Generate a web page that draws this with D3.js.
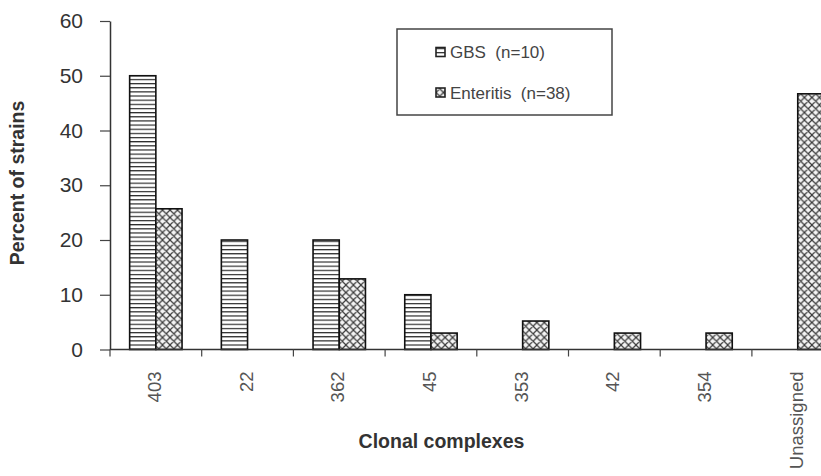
<!DOCTYPE html>
<html>
<head>
<meta charset="utf-8">
<script src="https://cdn.jsdelivr.net/npm/d3@7"></script>
<style>
  html, body { margin: 0; padding: 0; background: #fff; }
  svg { display: block; font-family: "Liberation Sans", Arial, sans-serif; }
</style>
</head>
<body>
<svg id="chart" width="821" height="476"></svg>
<script>
// Clonal complexes and the share of strains in each, per patient group
const categories = ["403", "22", "362", "45", "353", "42", "354", "Unassigned"];
const seriesNames = ["GBS (n=10)", "Enteritis (n=38)"];
const gbsValues = [50, 20, 20, 10, 0, 0, 0, 0];
const enteritisValues = [25.7, 0, 12.9, 3, 5.2, 3, 3, 46.7];
const yTicks = [0, 10, 20, 30, 40, 50, 60];

const svg = d3.select("#chart");
const W = 821, H = 476;

const plotLeft = 110, plotTop = 21, plotBottom = 349.5;
const step = 91.7;

const x = d3.scaleBand()
  .domain(categories)
  .range([plotLeft, plotLeft + step * categories.length])
  .paddingInner(0).paddingOuter(0);

const x1 = d3.scaleBand()
  .domain(seriesNames)
  .range([0, x.bandwidth()])
  .paddingInner(0).paddingOuter(0.75);

const y = d3.scaleLinear().domain([0, 60]).range([plotBottom, plotTop]);

// Fill patterns: horizontal stripes and diagonal cross-hatch
const defs = svg.append("defs");
const stripes = defs.append("pattern")
  .attr("id", "stripes").attr("patternUnits", "userSpaceOnUse")
  .attr("width", 8).attr("height", 4.15);
stripes.append("rect").attr("width", 8).attr("height", 4.15).attr("fill", "#fff");
stripes.append("line").attr("x1", 0).attr("x2", 8).attr("y1", 0.6).attr("y2", 0.6)
  .attr("stroke", "#2a2a2a").attr("stroke-width", 1.2);

const hatch = defs.append("pattern")
  .attr("id", "hatch").attr("patternUnits", "userSpaceOnUse")
  .attr("width", 7.5).attr("height", 7.5);
hatch.append("rect").attr("width", 7.5).attr("height", 7.5).attr("fill", "#f4f4f4");
hatch.append("path")
  .attr("d", "M0,0L7.5,7.5M0,7.5L7.5,0M-1,1L1,-1M6.5,8.5L8.5,6.5M-1,6.5L1,8.5M6.5,-1L8.5,1")
  .attr("stroke", "#3a3a3a").attr("stroke-width", 1.2).attr("fill", "none");

const fills = { "GBS (n=10)": "url(#stripes)", "Enteritis (n=38)": "url(#hatch)" };
const valuesBySeries = { "GBS (n=10)": gbsValues, "Enteritis (n=38)": enteritisValues };

// Bars
const groups = svg.append("g").selectAll("g")
  .data(categories).join("g")
  .attr("transform", d => `translate(${x(d)},0)`);

groups.selectAll("rect")
  .data((c, i) => seriesNames.map(s => ({ s, v: valuesBySeries[s][i] })).filter(d => d.v > 0))
  .join("rect")
  .attr("x", d => x1(d.s))
  .attr("width", x1.bandwidth())
  .attr("y", d => y(d.v))
  .attr("height", d => y(0) - y(d.v))
  .attr("fill", d => fills[d.s])
  .attr("stroke", "#111")
  .attr("stroke-width", 1.6);

// Y axis
const yAxis = svg.append("g")
  .attr("transform", `translate(${plotLeft},0)`)
  .call(d3.axisLeft(y).tickValues(yTicks).tickSize(10).tickPadding(17).tickSizeOuter(0));
yAxis.select(".domain").attr("stroke", "#333").attr("stroke-width", 1.5);
yAxis.selectAll(".tick line").attr("stroke", "#444").attr("stroke-width", 1.2);
yAxis.selectAll(".tick text")
  .attr("font-size", 21).attr("fill", "#333")
  .attr("font-family", "Liberation Sans, Arial, sans-serif");

// X axis: ticks sit on the category boundaries
const xAxisG = svg.append("g").attr("transform", `translate(0,${plotBottom})`);
xAxisG.append("line")
  .attr("x1", plotLeft).attr("x2", W)
  .attr("stroke", "#333").attr("stroke-width", 1.5);
const boundaries = categories.map(c => x(c));
xAxisG.selectAll("line.bt")
  .data(boundaries).join("line").attr("class", "bt")
  .attr("x1", d => d).attr("x2", d => d)
  .attr("y1", 0).attr("y2", 7)
  .attr("stroke", "#444").attr("stroke-width", 1.2);

xAxisG.selectAll("text.cat")
  .data(categories).join("text").attr("class", "cat")
  .attr("transform", d => `translate(${x(d) + x.bandwidth() / 2 + 5},${22}) rotate(-90)`)
  .attr("text-anchor", "end")
  .attr("font-size", 18.5)
  .attr("fill", "#555")
  .text(d => d);

// Axis titles
svg.append("text")
  .attr("transform", `translate(24,183) rotate(-90)`)
  .attr("text-anchor", "middle")
  .attr("font-size", 19.5).attr("font-weight", "bold").attr("fill", "#333")
  .text("Percent of strains");

svg.append("text")
  .attr("x", 441.5).attr("y", 448)
  .attr("text-anchor", "middle")
  .attr("font-size", 19.5).attr("font-weight", "bold").attr("fill", "#333")
  .text("Clonal complexes");

// Legend
const legend = svg.append("g");
legend.append("rect")
  .attr("x", 397).attr("y", 29).attr("width", 215).attr("height", 86)
  .attr("fill", "#fff").attr("stroke", "#444").attr("stroke-width", 1.5);

const legendRows = legend.selectAll("g.row")
  .data(seriesNames).join("g").attr("class", "row")
  .attr("transform", (d, i) => `translate(436,${52 + i * 40.5})`);
legendRows.append("rect")
  .attr("x", 0).attr("y", -4.5).attr("width", 9).attr("height", 9)
  .attr("fill", d => fills[d]).attr("stroke", "#222").attr("stroke-width", 1.6);
legendRows.append("text")
  .attr("x", 14).attr("dy", "0.36em")
  .attr("font-size", 17).attr("fill", "#444")
  .attr("xml:space", "preserve")
  .text(d => d.replace(" (", "  ("));
</script>
</body>
</html>
